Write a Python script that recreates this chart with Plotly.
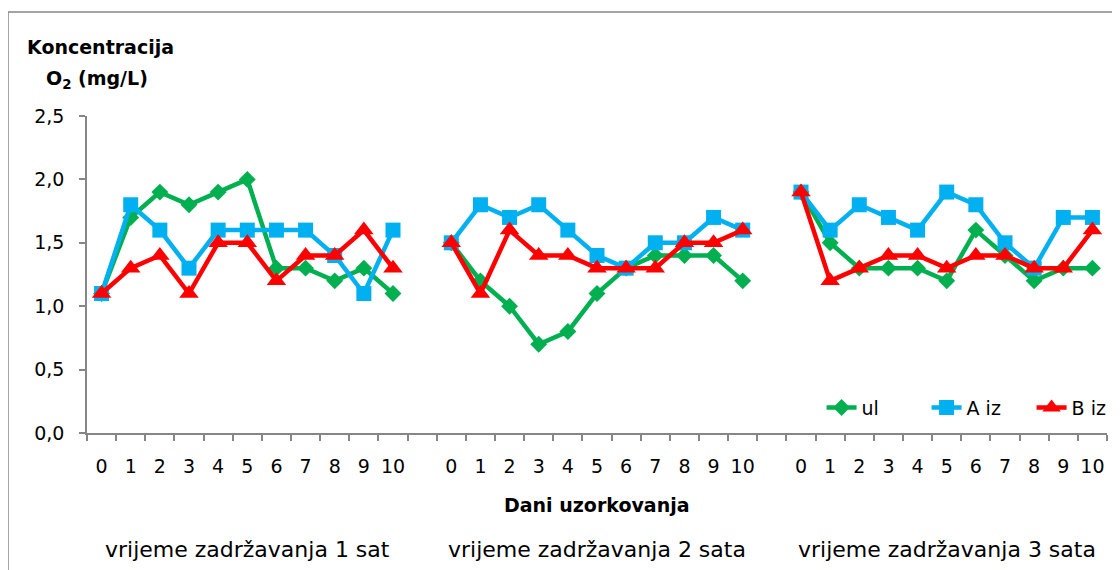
import plotly.graph_objects as go

days = [str(d) for d in range(11)]
groups = ["vrijeme zadržavanja 1 sat", "vrijeme zadržavanja 2 sata", "vrijeme zadržavanja 3 sata"]

ul_1 = [1.1, 1.7, 1.9, 1.8, 1.9, 2.0, 1.3, 1.3, 1.2, 1.3, 1.1]
ul_2 = [1.5, 1.2, 1.0, 0.7, 0.8, 1.1, 1.3, 1.4, 1.4, 1.4, 1.2]
ul_3 = [1.9, 1.5, 1.3, 1.3, 1.3, 1.2, 1.6, 1.4, 1.2, 1.3, 1.3]

a_1 = [1.1, 1.8, 1.6, 1.3, 1.6, 1.6, 1.6, 1.6, 1.4, 1.1, 1.6]
a_2 = [1.5, 1.8, 1.7, 1.8, 1.6, 1.4, 1.3, 1.5, 1.5, 1.7, 1.6]
a_3 = [1.9, 1.6, 1.8, 1.7, 1.6, 1.9, 1.8, 1.5, 1.3, 1.7, 1.7]

b_1 = [1.1, 1.3, 1.4, 1.1, 1.5, 1.5, 1.2, 1.4, 1.4, 1.6, 1.3]
b_2 = [1.5, 1.1, 1.6, 1.4, 1.4, 1.3, 1.3, 1.3, 1.5, 1.5, 1.6]
b_3 = [1.9, 1.2, 1.3, 1.4, 1.4, 1.3, 1.4, 1.4, 1.3, 1.3, 1.6]

n = len(days)
step = n + 1
xpos = []
ticktext = []
for g in range(3):
    xpos += [g * step + i for i in range(n)]
    ticktext += days


def joined(a, b, c):
    return a + [None] + b + [None] + c


def xjoined():
    return xpos[:n] + [n] + xpos[n:2 * n] + [2 * n + 1] + xpos[2 * n:]


FONT = "DejaVu Sans"
GRAY = "#868686"

fig = go.Figure()
series = [
    ("ul", joined(ul_1, ul_2, ul_3), "#00B050", "diamond", 13),
    ("A iz", joined(a_1, a_2, a_3), "#00B0F0", "square", 15),
    ("B iz", joined(b_1, b_2, b_3), "#FF0000", "triangle-up", 17),
]
for name, ys, col, sym, sz in series:
    fig.add_trace(go.Scatter(
        x=xjoined(), y=ys, name=name, mode="lines+markers",
        line=dict(color=col, width=4.5), connectgaps=False,
        marker=dict(symbol=sym, size=sz, color=col),
    ))

# page body has an 8px margin; figure is sized/placed so the screenshot matches
fig.update_layout(
    width=1112, height=562,
    margin=dict(l=79, r=13, t=108, b=137, autoexpand=False),
    paper_bgcolor="white", plot_bgcolor="white",
    separators=",.",
    font=dict(family=FONT, size=19, color="black"),
    showlegend=True,
    legend=dict(orientation="h", x=1.029, xanchor="right", y=0.02, yanchor="bottom",
                bgcolor="rgba(0,0,0,0)", font=dict(size=19, family=FONT),
                itemsizing="trace", tracegroupgap=0, entrywidth=60, entrywidthmode="pixels"),
    xaxis=dict(
        range=[-0.5, 3 * step - 1.5], tickmode="array", tickvals=xpos, ticktext=ticktext,
        ticks="", showgrid=False, zeroline=False, showline=True, linecolor=GRAY, linewidth=1.5,
        tickfont=dict(size=19, family=FONT), ticklabelstandoff=15,
        minor=dict(tick0=-0.5, dtick=1, ticks="outside", ticklen=6, tickcolor=GRAY, tickwidth=1.5, showgrid=False),
    ),
    yaxis=dict(
        range=[0, 2.5], tickmode="linear", tick0=0, dtick=0.5, tickformat=".1f",
        ticks="outside", ticklen=6, tickcolor=GRAY, tickwidth=1.5,
        showgrid=False, zeroline=False, showline=True, linecolor=GRAY, linewidth=1.5,
        tickfont=dict(size=19, family=FONT), ticklabelstandoff=11,
    ),
)

W, H = 1020, 317
def px(x):
    return (x - 87) / W
def py(y):
    return (433 - y) / H

def note(text, x, y, size, xref="paper"):
    fig.add_annotation(text=text, xref=xref, yref="paper", x=x, y=y, showarrow=False,
                       xanchor="center", yanchor="middle", font=dict(size=size, family=FONT))

note("<b>Koncentracija</b>", px(100), py(47), 19)
note("<b>O<sub>2</sub> (mg/L)</b>", px(97), py(79), 19)
note("<b>Dani uzorkovanja</b>", px(597), py(505), 19)
for g, label in enumerate(groups):
    note(label, g * step + (n - 1) / 2, py(549), 22, xref="x")

fig.add_shape(type="rect", xref="paper", yref="paper",
              x0=px(8), y0=py(600), x1=px(1150), y1=py(12),
              line=dict(color=GRAY, width=1.5), layer="below")

fig.write_html("out.html")
